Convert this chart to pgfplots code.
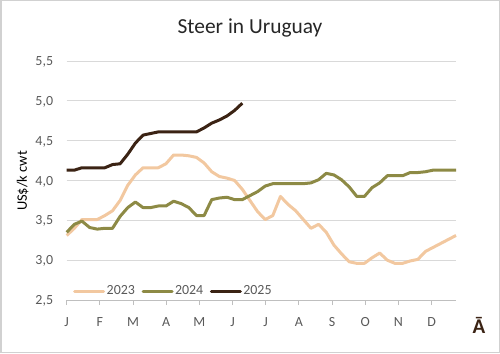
\documentclass[border=0pt]{standalone}
\usepackage{pgfplots}
\pgfplotsset{compat=1.18}
\usepackage{pgfplotstable}
\usepackage{fontspec}
\setmainfont{Carlito}
\definecolor{c23}{HTML}{F2C8A0}
\definecolor{c24}{HTML}{8D8A45}
\definecolor{c25}{HTML}{3B2314}
\definecolor{tickgray}{HTML}{595959}
\definecolor{gridgray}{HTML}{D9D9D9}
\definecolor{axgray}{HTML}{BFBFBF}
\pgfplotstableread{
w y
0 3.31
1 3.40
2 3.51
3 3.51
4 3.51
5 3.56
6 3.62
7 3.75
8 3.94
9 4.07
10 4.16
11 4.16
12 4.16
13 4.21
14 4.32
15 4.32
16 4.31
17 4.29
18 4.22
19 4.11
20 4.05
21 4.03
22 4.00
23 3.89
24 3.75
25 3.61
26 3.51
27 3.56
28 3.80
29 3.70
30 3.62
31 3.51
32 3.40
33 3.45
34 3.35
35 3.19
36 3.08
37 2.98
38 2.96
39 2.96
40 3.03
41 3.09
42 3.00
43 2.96
44 2.96
45 2.99
46 3.01
47 3.11
48 3.16
49 3.21
50 3.26
51 3.31
}\dataA
\pgfplotstableread{
w y
0 3.35
1 3.45
2 3.49
3 3.41
4 3.39
5 3.40
6 3.40
7 3.55
8 3.66
9 3.73
10 3.66
11 3.66
12 3.68
13 3.68
14 3.74
15 3.71
16 3.66
17 3.56
18 3.56
19 3.76
20 3.78
21 3.79
22 3.76
23 3.76
24 3.81
25 3.86
26 3.93
27 3.96
28 3.96
29 3.96
30 3.96
31 3.96
32 3.97
33 4.01
34 4.09
35 4.07
36 4.01
37 3.92
38 3.80
39 3.80
40 3.91
41 3.97
42 4.06
43 4.06
44 4.06
45 4.10
46 4.10
47 4.11
48 4.13
49 4.13
50 4.13
51 4.13
}\dataB
\pgfplotstableread{
w y
0 4.13
1 4.13
2 4.16
3 4.16
4 4.16
5 4.16
6 4.20
7 4.21
8 4.33
9 4.47
10 4.57
11 4.59
12 4.61
13 4.61
14 4.61
15 4.61
16 4.61
17 4.61
18 4.66
19 4.72
20 4.76
21 4.81
22 4.88
23 4.97
}\dataC
\begin{document}
\begin{tikzpicture}[x=1bp,y=1bp]
\useasboundingbox (0,0) rectangle (500,353);
\draw[color=black!18, line width=1.5bp] (0.75,0.75) rectangle (499.25,352.25);
\node[font=\fontsize{21.5}{24}\selectfont, text=black!85, anchor=base] at (250,319.7) {Steer in Uruguay};
\node[font=\fontsize{14.5}{16}\selectfont, text=black, rotate=90] at (22.7,172) {US\$/k cwt};
\node[font=\bfseries\fontsize{21}{22}\selectfont, text=c25] at (479,28) {Ā};
\begin{axis}[
  at={(66.7bp,53bp)}, anchor=south west,
  scale only axis, width=389.3bp, height=239bp,
  xmin=0, xmax=51, ymin=2.5, ymax=5.5,
  axis y line*=left, axis x line*=bottom,
  x axis line style={draw=axgray, line width=0.8bp, -},
  y axis line style={draw=none},
  xtick={0,4.345,8.69,13.035,17.38,21.725,26.07,30.415,34.76,39.105,43.45,47.795},
  xticklabels={J,F,M,A,M,J,J,A,S,O,N,D},
  xtick style={draw=axgray, line width=0.8bp},
  ytick style={draw=none},
  xtick align=outside, major tick length=5bp,
  xticklabel style={anchor=base, yshift=-21.7bp, inner sep=0pt, font=\fontsize{14}{15}\selectfont, text=tickgray},
  ytick={2.5,3,3.5,4,4.5,5,5.5},
  ymajorgrids, major grid style={draw=gridgray, line width=0.9bp},
  yticklabel style={anchor=base east, inner sep=0pt, xshift=-13.4bp, yshift=-4.6bp, font=\fontsize{14}{15}\selectfont, text=tickgray},
  yticklabel={\pgfmathprintnumber[fixed, fixed zerofill, precision=1, use comma, assume math mode=true]{\tick}},
  legend columns=3,
  legend style={at={(axis cs:0.83,2.613)}, anchor=west, draw=none, fill=none, inner sep=0pt,
    font=\fontsize{14}{15}\selectfont, text=tickgray,
    /tikz/every even column/.append style={column sep=5bp},
    nodes={inner sep=1.5bp}},
  legend image code/.code={\draw[#1, line width=3bp, line cap=round] (0bp,0bp) -- (29bp,0bp);},
  clip=false,
]
\addplot[c23, line width=3bp, line join=round] table[x=w,y=y] {\dataA};
\addlegendentry{2023}
\addplot[c24, line width=3bp, line join=round] table[x=w,y=y] {\dataB};
\addlegendentry{2024}
\addplot[c25, line width=3bp, line join=round] table[x=w,y=y] {\dataC};
\addlegendentry{2025}
\end{axis}
\end{tikzpicture}
\end{document}
